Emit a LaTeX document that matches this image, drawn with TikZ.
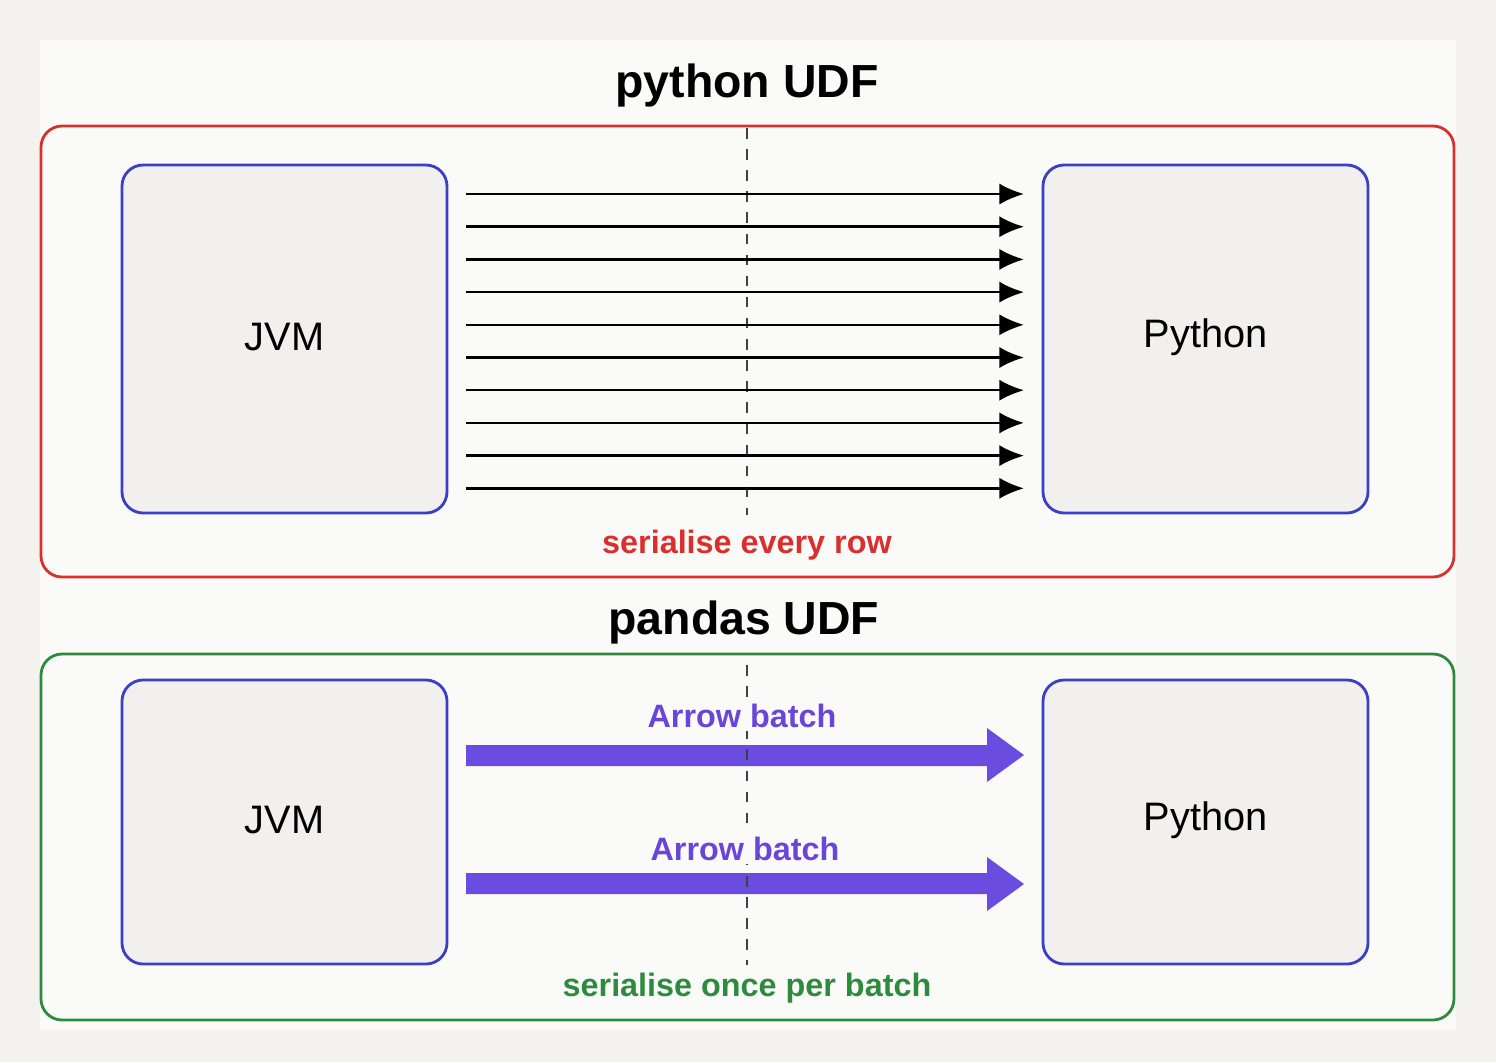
\documentclass[tikz,border=0pt]{standalone}
\usepackage{fontspec}
\setmainfont{Liberation Sans}
\definecolor{bgout}{HTML}{F3F2EF}
\definecolor{bgin}{HTML}{FAFAF8}
\definecolor{boxfill}{HTML}{F1F0EE}
\definecolor{boxblue}{HTML}{3A3FC4}
\definecolor{redc}{HTML}{D9302F}
\definecolor{greenc}{HTML}{2E8B3E}
\definecolor{purp}{HTML}{6B4CE0}
\definecolor{purtxt}{HTML}{6A45D9}
\tikzset{
  engine/.style={draw=boxblue, line width=0.8pt, fill=boxfill, rounded corners=6pt},
  frame/.style={line width=0.8pt, rounded corners=6pt},
  rowarrow/.style={-{Latex[length=7pt,width=6pt]}, line width=0.7pt, black},
  fatarrow/.style={fill=purp, draw=none},
  divider/.style={dashed, line width=0.5pt, black!75},
  title/.style={font=\fontsize{13.2}{16}\selectfont\bfseries},
  engtxt/.style={font=\fontsize{11.3}{14}\selectfont},
  lbl/.style={font=\fontsize{9.2}{11}\selectfont\bfseries}
}
\usetikzlibrary{arrows.meta}
\begin{document}
\begin{tikzpicture}[x=0.01cm,y=-0.01cm]
\fill[bgout] (0,0) rectangle (1496,1062);
\fill[bgin] (40,40) rectangle (1456,1030);
\useasboundingbox (0,0) rectangle (1496,1062);
% top panel
\node[title] (t1) at (747,85) {python UDF};
\draw[frame, draw=redc] (41,126) rectangle (1454,577);
\draw[divider] (747,128) coordinate (d1a) -- (747,515) coordinate (d1b);
\draw[engine] (122,165) rectangle (447,513);
\node[engtxt] (jvm1) at (284.5,337) {JVM};
\draw[engine] (1043,165) rectangle (1368,513);
\node[engtxt] (py1) at (1205.5,337) {Python};
\foreach \i in {0,...,9}{
  \coordinate (s\i) at (466,{194+32.7*\i});
  \coordinate (e\i) at (1024,{194+32.7*\i});
  \draw[rowarrow] (s\i) -- (e\i);
}
\node[lbl, text=redc] (l1) at (747,545) {serialise every row};
% bottom panel
\node[title] (t2) at (744,622) {pandas UDF};
\draw[frame, draw=greenc] (41,654) rectangle (1454,1020);
\draw[engine] (122,680) rectangle (447,964);
\node[engtxt] (jvm2) at (284.5,820) {JVM};
\draw[engine] (1043,680) rectangle (1368,964);
\node[engtxt] (py2) at (1205.5,820) {Python};
\fill[fatarrow] (466,745) -- (987,745) -- (987,728) -- (1024,755) -- (987,782) -- (987,766) -- (466,766) -- cycle;
\fill[fatarrow] (466,873) -- (987,873) -- (987,857) -- (1024,884) -- (987,911) -- (987,894) -- (466,894) -- cycle;
\draw[divider] (747,665) -- (747,965);
\node[lbl, text=purtxt, fill=bgin, inner sep=1pt] (a1) at (742,716) {Arrow batch};
\node[lbl, text=purtxt, fill=bgin, inner sep=1pt] (a2) at (745,849) {Arrow batch};
\node[lbl, text=greenc] (l2) at (747,988) {serialise once per batch};
\end{tikzpicture}
\end{document}
